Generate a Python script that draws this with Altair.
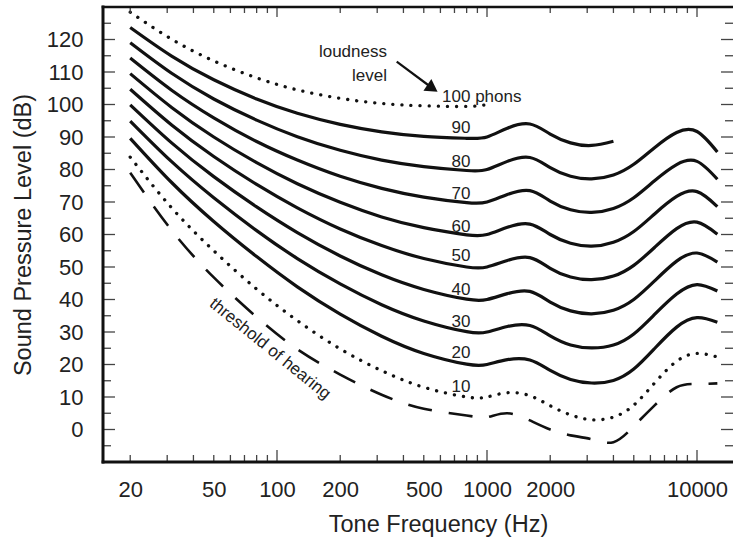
import altair as alt
import pandas as pd

# ---------------- data ----------------
freqs = [20, 31.5, 50, 80, 125, 200, 315, 500, 800, 1000, 1250, 1600,
         2000, 2500, 3150, 4000, 5000, 6300, 8000, 10000, 12500]

phon_10 = [83.8, 68.2, 55.0, 43.2, 33.5, 24.8, 18.1, 13.0, 10.0, 10.0, 11.3, 10.4,
           7.3, 4.5, 3.0, 3.8, 7.5, 14.4, 21.0, 23.4, 22.3]
phon_20 = [89.6, 76.0, 64.0, 53.2, 43.9, 35.5, 28.7, 23.4, 20.1, 20.0, 21.5, 21.4,
           18.2, 15.4, 14.3, 15.1, 18.6, 25.0, 31.5, 34.4, 33.0]
phon_30 = [94.9, 82.4, 71.3, 61.2, 52.6, 44.8, 38.4, 33.4, 30.1, 30.0, 31.7, 32.0,
           28.8, 26.0, 25.1, 26.0, 29.4, 35.5, 41.7, 44.6, 42.6]
phon_40 = [99.9, 88.2, 77.8, 68.5, 60.6, 53.4, 47.6, 43.1, 40.1, 40.0, 41.8, 42.5,
           39.2, 36.5, 35.6, 36.7, 40.0, 45.8, 51.8, 54.3, 51.5]
phon_50 = [104.7, 93.7, 84.0, 75.4, 68.2, 61.7, 56.6, 52.6, 50.0, 50.0, 52.0, 52.9,
           49.6, 46.9, 46.1, 47.2, 50.5, 56.1, 61.8, 63.8, 60.1]
phon_60 = [109.5, 99.1, 90.0, 82.1, 75.6, 69.9, 65.4, 62.1, 59.9, 60.0, 62.2, 63.2,
           60.0, 57.3, 56.4, 57.6, 60.9, 66.4, 71.7, 73.2, 68.6]
phon_70 = [114.3, 104.4, 95.9, 88.6, 82.9, 77.9, 74.2, 71.5, 69.8, 70.0, 72.3, 73.5,
           70.3, 67.6, 66.8, 68.0, 71.3, 76.6, 81.5, 82.5, 77.0]
phon_80 = [119.0, 109.6, 101.7, 95.2, 90.1, 85.9, 82.9, 80.9, 79.7, 80.0, 82.5, 83.7,
           80.6, 77.9, 77.1, 78.3, 81.6, 86.8, 91.4, 91.7, 85.4]
phon_90 = [123.7, 114.9, 107.6, 101.7, 97.3, 93.9, 91.6, 90.2, 89.6, 90.0, 92.7, 94.0,
           90.9, 88.2, 87.4, 88.7]
phon_100 = [128.4, 120.1, 113.4, 108.2, 104.5, 101.9, 100.3, 99.6, 99.4, 100.0]
threshold = [79.0, 61.3, 46.8, 34.6, 24.7, 16.9, 10.7, 6.4, 4.3, 3.8, 5.0, 2.8,
             0.0, -1.8, -3.0, -3.9, 1.0, 7.5, 13.0, 14.0, 14.2]

solid_curves = {"20": phon_20, "30": phon_30, "40": phon_40, "50": phon_50,
                "60": phon_60, "70": phon_70, "80": phon_80, "90": phon_90}
dotted_curves = {"10": phon_10, "100": phon_100}

# curve labels
label_texts = ["90", "80", "70", "60", "50", "40", "30", "20", "10"]
label_freq = 752
label_db = [92.8, 82.2, 72.5, 62.4, 53.4, 42.9, 33.2, 23.6, 13.2]

top_label = ["100 phons"]
top_label_freq = [611]
top_label_db = [102.4]

note_lines = ["loudness", "level"]
note_freq = [334, 334]
note_db = [116.2, 108.8]

arrow_from = (371.5, 113.2)
arrow_to = (550, 105.0)

thr_text = ["threshold of hearing"]
thr_freq = [92.6]
thr_db = [24.8]

# axes labels / ticks
x_label_values = [20, 50, 100, 200, 500, 1000, 2000, 10000]
y_label_values = [0, 10, 20, 30, 40, 50, 60, 70, 80, 90, 100, 110, 120]
x_major = [100, 1000, 10000]
x_minor = [20, 30, 40, 50, 60, 70, 80, 90, 200, 300, 400, 500, 600, 700, 800, 900,
           2000, 3000, 4000, 5000, 6000, 7000, 8000, 9000]
y_major = [0, 10, 20, 30, 40, 50, 60, 70, 80, 90, 100, 110, 120]
y_minor = [-5, 5, 15, 25, 35, 45, 55, 65, 75, 85, 95, 105, 115, 125]

# ---------------- chart ----------------
W, H = 630, 455
FONT = "Liberation Sans"
TXT = "#222222"
LINE = "#111111"

xs = alt.Scale(type="log", domain=[14.84, 14840])
ys = alt.Scale(domain=[-10, 130], nice=False, zero=False)

x_axis = alt.Axis(values=x_label_values, format="d", labelFontSize=22, labelColor=TXT,
                  labelFont=FONT, labelPadding=17, ticks=False, domain=False, grid=False,
                  labelFlush=False, labelOverlap=False,
                  title="Tone Frequency (Hz)", titleFont=FONT, titleFontSize=23.5,
                  titleFontWeight="normal", titleColor=TXT, titleX=335, titleY=62,
                  titleAlign="center", titleBaseline="middle")
y_axis = alt.Axis(values=y_label_values, labelFontSize=22, labelColor=TXT, labelFont=FONT,
                  labelPadding=20, ticks=False, domain=False, grid=False,
                  labelFlush=False, labelOverlap=False,
                  title="Sound Pressure Level (dB)", titleFont=FONT, titleFontSize=23.5,
                  titleFontWeight="normal", titleColor=TXT, titleX=-80, titleY=H / 2,
                  titleAlign="center", titleBaseline="middle", titleAngle=-90)


def X(field):
    return alt.X(field, scale=xs, axis=x_axis)


def Y(field):
    return alt.Y(field, scale=ys, axis=y_axis)


def long(curves):
    rows = []
    for name, vals in curves.items():
        for f, v in zip(freqs, vals):
            rows.append({"freq": f, "spl": v, "curve": name})
    return pd.DataFrame(rows)


solid_df = long(solid_curves)
dotted_df = long(dotted_curves)
thr_df = long({"threshold": threshold})

solid = alt.Chart(solid_df).mark_line(
    color=LINE, strokeWidth=3.2, interpolate="natural"
).encode(x=X("freq:Q"), y=Y("spl:Q"), detail="curve:N")

dotted = alt.Chart(dotted_df).mark_line(
    color=LINE, strokeWidth=3.3, strokeDash=[0.1, 9], strokeCap="round",
    interpolate="natural"
).encode(x=X("freq:Q"), y=Y("spl:Q"), detail="curve:N")

dashed = alt.Chart(thr_df).mark_line(
    color=LINE, strokeWidth=2.6, strokeDash=[24, 17], interpolate="natural"
).encode(x=X("freq:Q"), y=Y("spl:Q"))

TICK = "#444444"


def xticks(vals, y0, y1):
    return alt.Chart(pd.DataFrame({"freq": vals})).mark_rule(color=TICK, strokeWidth=1.3).encode(
        x=X("freq:Q"), y=alt.value(y0), y2=alt.value(y1))


def yticks(vals, x0, x1):
    return alt.Chart(pd.DataFrame({"spl": vals})).mark_rule(color=TICK, strokeWidth=1.3).encode(
        y=Y("spl:Q"), x=alt.value(x0), x2=alt.value(x1))


ticks = [
    xticks(x_major, H, H - 12), xticks(x_minor, H, H - 7),
    xticks(x_major, 0, 10), xticks(x_minor, 0, 6),
    yticks(y_major, 0, 12), yticks(y_minor, 0, 8),
    yticks(y_major, W - 12, W), yticks(y_minor, W - 8, W),
]

one = pd.DataFrame({"k": [0]})
frame = [
    alt.Chart(one).mark_rule(color=LINE, strokeWidth=3, strokeCap="square").encode(
        x=alt.value(0), y=alt.value(0), y2=alt.value(H)),
    alt.Chart(one).mark_rule(color=LINE, strokeWidth=2.6, strokeCap="square").encode(
        y=alt.value(0), x=alt.value(0), x2=alt.value(W)),
    alt.Chart(one).mark_rule(color=LINE, strokeWidth=2.8, strokeCap="square").encode(
        y=alt.value(H), x=alt.value(0), x2=alt.value(W)),
]

lab_df = pd.DataFrame({"text": label_texts, "freq": [label_freq] * len(label_texts),
                       "spl": label_db})
labels = alt.Chart(lab_df).mark_text(
    font=FONT, fontSize=17, color=TXT, align="center", baseline="middle"
).encode(x=X("freq:Q"), y=Y("spl:Q"), text="text:N")

top_df = pd.DataFrame({"text": top_label, "freq": top_label_freq, "spl": top_label_db})
top_lab = alt.Chart(top_df).mark_text(
    font=FONT, fontSize=17, color=TXT, align="left", baseline="middle"
).encode(x=X("freq:Q"), y=Y("spl:Q"), text="text:N")

note_df = pd.DataFrame({"text": note_lines, "freq": note_freq, "spl": note_db})
note = alt.Chart(note_df).mark_text(
    font=FONT, fontSize=17, color=TXT, align="right", baseline="middle"
).encode(x=X("freq:Q"), y=Y("spl:Q"), text="text:N")

arr_df = pd.DataFrame({"freq": [arrow_from[0]], "spl": [arrow_from[1]],
                       "freq2": [arrow_to[0]], "spl2": [arrow_to[1]]})
arrow_line = alt.Chart(arr_df).mark_rule(color=LINE, strokeWidth=2.2).encode(
    x=X("freq:Q"), y=Y("spl:Q"), x2="freq2:Q", y2="spl2:Q")
head_df = pd.DataFrame({"freq": [arrow_to[0]], "spl": [arrow_to[1]]})
arrow_head = alt.Chart(head_df).mark_point(
    shape="triangle-right", filled=True, color=LINE, opacity=1, size=200, angle=34
).encode(x=X("freq:Q"), y=Y("spl:Q"))

thr_df_t = pd.DataFrame({"text": thr_text, "freq": thr_freq, "spl": thr_db})
thr_lab = alt.Chart(thr_df_t).mark_text(
    font=FONT, fontSize=17, color=TXT, align="center", baseline="middle", angle=39
).encode(x=X("freq:Q"), y=Y("spl:Q"), text="text:N")

chart = alt.layer(
    solid, dotted, dashed, *ticks, *frame, labels, top_lab, note, arrow_line, arrow_head, thr_lab
).properties(
    width=W, height=H,
    padding={"left": 103, "top": 7, "right": 0, "bottom": 80},
    autosize=alt.AutoSizeParams(type="none"),
    background="white",
).configure_view(stroke=None)

chart.save("out.html", embed_options={"renderer": "svg", "actions": False})
